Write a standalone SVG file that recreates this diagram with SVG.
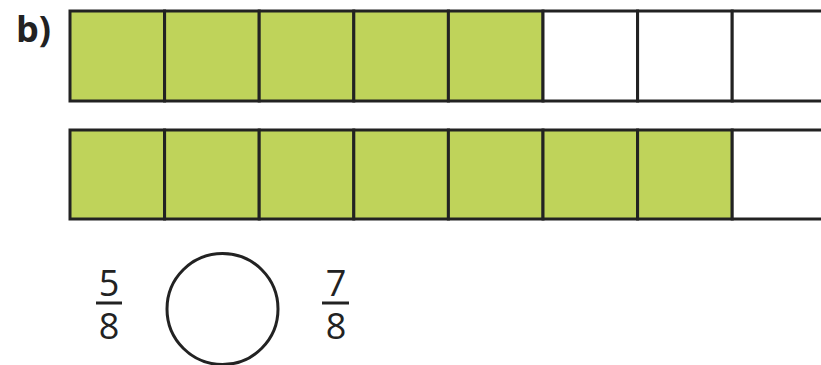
<svg xmlns="http://www.w3.org/2000/svg" width="821" height="365" viewBox="0 0 821 365">
<style>
.g{fill:#bfd35a;stroke:#222;stroke-width:3}
.w{fill:#fff;stroke:#222;stroke-width:3}
.t{font-family:"Open Sans","Noto Sans",sans-serif;font-size:36px;fill:#222;text-anchor:middle}
.fl{stroke:#222;stroke-width:3}
</style>
<rect width="821" height="365" fill="#fff"/>
<text x="16" y="42" font-family="'Open Sans','Noto Sans',sans-serif" font-weight="bold" font-size="36" fill="#222">b)</text>
<g id="bar1">
<rect class="g" x="70" y="11" width="94.6" height="90"/>
<rect class="g" x="164.6" y="11" width="94.6" height="90"/>
<rect class="g" x="259.2" y="11" width="94.6" height="90"/>
<rect class="g" x="353.8" y="11" width="94.6" height="90"/>
<rect class="g" x="448.4" y="11" width="94.6" height="90"/>
<rect class="w" x="543" y="11" width="94.6" height="90"/>
<rect class="w" x="637.6" y="11" width="94.6" height="90"/>
<rect class="w" x="732.2" y="11" width="94.6" height="90"/>
</g>
<g id="bar2">
<rect class="g" x="70" y="130" width="94.6" height="89"/>
<rect class="g" x="164.6" y="130" width="94.6" height="89"/>
<rect class="g" x="259.2" y="130" width="94.6" height="89"/>
<rect class="g" x="353.8" y="130" width="94.6" height="89"/>
<rect class="g" x="448.4" y="130" width="94.6" height="89"/>
<rect class="g" x="543" y="130" width="94.6" height="89"/>
<rect class="g" x="637.6" y="130" width="94.6" height="89"/>
<rect class="w" x="732.2" y="130" width="94.6" height="89"/>
</g>
<g id="frac1">
<text class="t" x="109" y="296">5</text>
<line class="fl" x1="96" y1="303" x2="122" y2="303"/>
<text class="t" x="109" y="339">8</text>
</g>
<g id="circle">
<circle cx="222.5" cy="309" r="55.5" fill="none" stroke="#222" stroke-width="3"/>
</g>
<g id="frac2">
<text class="t" x="336" y="296">7</text>
<line class="fl" x1="322" y1="303" x2="349" y2="303"/>
<text class="t" x="336" y="339">8</text>
</g>
</svg>
